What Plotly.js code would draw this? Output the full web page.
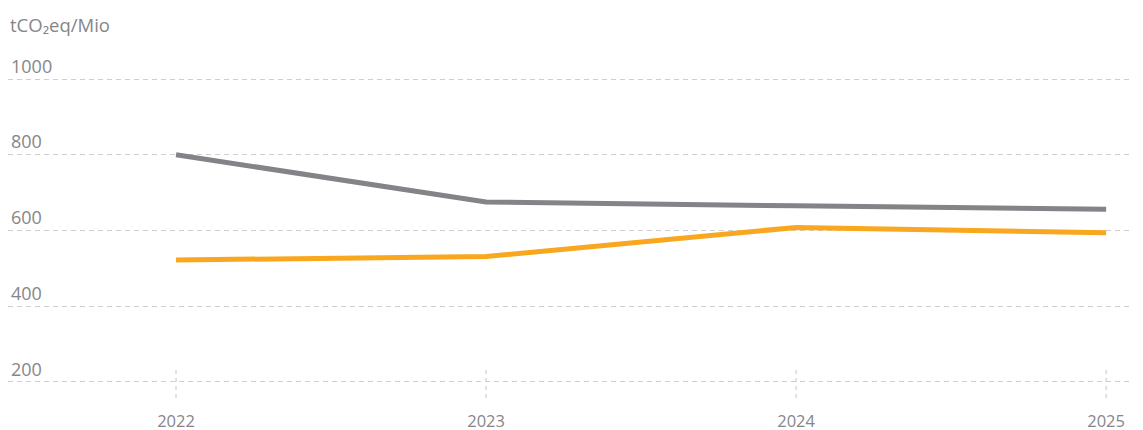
<!DOCTYPE html>
<html>
<head>
<meta charset="utf-8">
<script src="https://cdn.plot.ly/plotly-3.0.1.min.js"></script>
<style>html,body{margin:0;padding:0;background:#fff;}#chart{width:1143px;height:430px;}</style>
</head>
<body>
<div id="chart"></div>
<script>
const years = [2022, 2023, 2024, 2025];
const greySeries = [800, 675, 665, 656];
const orangeSeries = [522, 531, 608, 594];
const yTicks = [200, 400, 600, 800, 1000];
const unitLabel = 'tCO₂eq/Mio';

const textColor = '#86868a';
const fontFamily = '"Open Sans", "Noto Sans", sans-serif';

const traces = [
  {x: years, y: greySeries, type: 'scatter', mode: 'lines',
   line: {color: '#838388', width: 5}, hoverinfo: 'skip'},
  {x: years, y: orangeSeries, type: 'scatter', mode: 'lines',
   line: {color: '#F8A71E', width: 5}, hoverinfo: 'skip'}
];

const shapes = years.map(yr => ({
  type: 'line', xref: 'x', yref: 'paper', x0: yr, x1: yr, y0: 0, y1: 0.0895,
  line: {color: '#c4c4c4', width: 1, dash: '4px,4px'}, layer: 'below'
}));

const layout = {
  width: 1143, height: 430,
  margin: {l: 8, r: 13, t: 40, b: 32},
  paper_bgcolor: '#fff', plot_bgcolor: '#fff',
  showlegend: false,
  font: {family: fontFamily, size: 16, color: textColor},
  xaxis: {
    range: [2021.458, 2025.077], tickvals: years, ticktext: years.map(String),
    showgrid: false, zeroline: false, showline: false, ticks: '',
    ticklabelstandoff: 11, tickfont: {size: 16.5, color: textColor}
  },
  yaxis: {
    range: [157.5, 1103], tickvals: yTicks, ticktext: yTicks.map(String),
    showgrid: true, gridcolor: '#cfcfcf', griddash: '5px,4px', gridwidth: 1,
    zeroline: false, showline: false, ticks: '',
    ticklabelposition: 'inside top', tickfont: {size: 18, color: textColor}
  },
  shapes: shapes,
  annotations: [{
    text: unitLabel, xref: 'paper', yref: 'paper', x: 0, y: 1, yshift: 16,
    xanchor: 'left', yanchor: 'middle', showarrow: false,
    font: {size: 18.5, color: textColor, family: fontFamily}
  }]
};

Plotly.newPlot('chart', traces, layout, {displayModeBar: false, staticPlot: true});
</script>
</body>
</html>
